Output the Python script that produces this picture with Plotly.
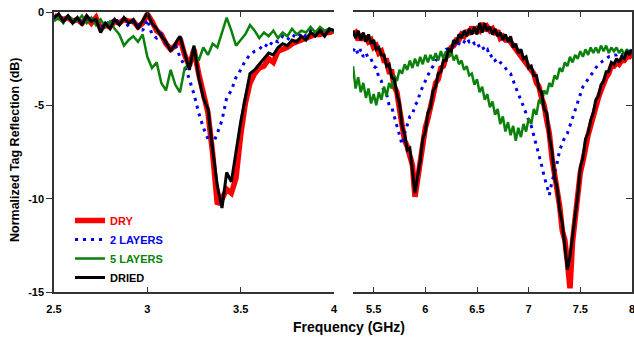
import plotly.graph_objects as go

# ---------------- data ----------------
freq_low = [2.500, 2.525, 2.550, 2.575, 2.600, 2.625, 2.650, 2.675, 2.700, 2.725,
            2.750, 2.775, 2.800, 2.825, 2.850, 2.875, 2.900, 2.925, 2.950, 2.975,
            3.000, 3.025, 3.050, 3.075, 3.100, 3.125, 3.150, 3.175, 3.200, 3.225,
            3.250, 3.275, 3.300, 3.325, 3.350, 3.375, 3.400, 3.425, 3.450, 3.475,
            3.500, 3.525, 3.550, 3.575, 3.600, 3.625, 3.650, 3.675, 3.700, 3.725,
            3.750, 3.775, 3.800, 3.825, 3.850, 3.875, 3.900, 3.925, 3.950, 3.975,
            4.000]

dried_low = [-0.3, -0.1, -0.5, -0.2, -0.6, -0.3, -0.7, -0.2, -0.5, -0.4,
             -1.1, -0.6, -0.9, -0.4, -0.7, -0.3, -0.6, -0.4, -0.9, -0.5,
             -0.05, -0.6, -0.9, -1.3, -1.6, -2.1, -1.7, -1.3, -2.2, -3.1,
             -1.8, -3.5, -4.6, -5.2, -7.4, -9.3, -10.5, -8.6, -9.1, -7.4,
             -5.9, -4.6, -3.3, -3.1, -2.8, -2.5, -2.2, -2.3, -1.9, -1.7,
             -1.8, -1.5, -1.6, -1.3, -1.5, -1.1, -1.3, -1.0, -1.3, -0.9,
             -1.0]

dry_low = [-0.2, -0.3, -0.4, -0.3, -0.5, -0.4, -0.6, -0.3, -0.6, -0.3,
           -0.9, -0.7, -0.8, -0.5, -0.6, -0.4, -0.5, -0.5, -0.8, -0.6,
           -0.1, -0.5, -1.0, -1.2, -1.7, -2.0, -1.8, -1.4, -2.3, -2.9,
           -2.0, -3.3, -4.4, -5.4, -7.6, -10.3, -10.0, -9.5, -9.7, -8.9,
           -6.6, -4.9, -3.8, -3.3, -3.0, -2.9, -2.5, -2.7, -2.1, -2.0,
           -1.9, -1.7, -1.6, -1.5, -1.4, -1.3, -1.2, -1.2, -1.1, -1.1,
           -1.0]

layers2_low = [-0.4, -0.2, -0.4, -0.3, -0.5, -0.3, -0.6, -0.4, -0.3, -0.6,
               -0.9, -0.5, -0.7, -0.3, -0.6, -0.4, -0.8, -0.5, -0.6, -1.0,
               -0.4, -1.2, -1.4, -1.2, -1.7, -2.0, -1.8, -2.4, -2.9, -3.6,
               -4.4, -5.4, -6.2, -6.8, -7.1, -6.5, -5.8, -4.6, -4.2, -3.5,
               -3.1, -2.6, -2.3, -2.1, -2.0, -1.7, -1.9, -1.5, -1.6, -1.3,
               -1.5, -1.2, -1.4, -1.1, -1.3, -1.0, -1.2, -0.9, -1.1, -1.0,
               -1.1]

layers5_low = [-0.5, -0.3, -0.6, -0.2, -0.4, -0.5, -0.2, -0.6, -0.3, -0.7,
               -0.4, -0.8, -0.5, -0.9, -1.2, -1.8, -1.5, -1.3, -1.6, -1.2,
               -2.4, -3.0, -2.7, -3.8, -4.2, -3.1, -3.9, -4.3, -3.0, -2.8,
               -2.1, -2.6, -1.9, -2.3, -1.7, -1.9, -1.1, -0.3, -1.0, -1.8,
               -1.5, -1.2, -0.7, -1.0, -1.4, -1.1, -1.3, -1.0, -1.4, -1.1,
               -1.3, -0.9, -1.2, -1.0, -1.1, -0.8, -1.1, -0.8, -1.0, -0.9,
               -1.1]

freq_high = [5.300, 5.325, 5.350, 5.375, 5.400, 5.425, 5.450, 5.475, 5.500, 5.525,
             5.550, 5.575, 5.600, 5.625, 5.650, 5.675, 5.700, 5.725, 5.750, 5.775,
             5.800, 5.825, 5.850, 5.875, 5.900, 5.925, 5.950, 5.975, 6.000, 6.025,
             6.050, 6.075, 6.100, 6.125, 6.150, 6.175, 6.200, 6.225, 6.250, 6.275,
             6.300, 6.325, 6.350, 6.375, 6.400, 6.425, 6.450, 6.475, 6.500, 6.525,
             6.550, 6.575, 6.600, 6.625, 6.650, 6.675, 6.700, 6.725, 6.750, 6.775,
             6.800, 6.825, 6.850, 6.875, 6.900, 6.925, 6.950, 6.975, 7.000, 7.025,
             7.050, 7.075, 7.100, 7.125, 7.150, 7.175, 7.200, 7.225, 7.250, 7.275,
             7.300, 7.325, 7.350, 7.375, 7.400, 7.425, 7.450, 7.475, 7.500, 7.525,
             7.550, 7.575, 7.600, 7.625, 7.650, 7.675, 7.700, 7.725, 7.750, 7.775,
             7.800, 7.825, 7.850, 7.875, 7.900, 7.925, 7.950, 7.975, 8.000]

dried_high = [-1.0, -1.4, -1.0, -1.5, -1.1, -1.6, -1.2, -1.7, -1.5, -2.0,
              -1.9, -2.3, -2.3, -2.9, -2.8, -3.5, -3.6, -4.4, -4.9, -6.1,
              -6.6, -7.4, -7.3, -8.4, -9.7, -8.8, -8.0, -6.8, -6.4, -5.4,
              -5.1, -4.2, -4.0, -3.3, -3.2, -2.6, -2.6, -2.0, -2.1, -1.5,
              -1.7, -1.2, -1.4, -1.0, -1.3, -0.9, -1.2, -0.8, -1.2, -0.6,
              -1.1, -0.6, -1.0, -0.8, -1.2, -0.9, -1.3, -1.1, -1.5, -1.2,
              -1.6, -1.3, -1.9, -1.7, -2.2, -2.0, -2.5, -2.4, -3.0, -2.9,
              -3.4, -3.4, -4.1, -4.3, -5.2, -5.4, -6.7, -7.4, -8.8, -9.4,
              -10.6, -11.3, -12.6, -13.8, -13.1, -12.0, -10.7, -9.8, -8.3, -7.8,
              -6.8, -6.5, -5.8, -5.4, -4.7, -4.5, -3.9, -3.7, -3.2, -3.2,
              -2.7, -2.8, -2.5, -2.7, -2.4, -2.5, -2.1, -2.3, -2.0]

dry_high = [-1.2, -1.1, -1.5, -1.2, -1.5, -1.3, -1.6, -1.5, -1.9, -1.8,
            -2.2, -2.1, -2.6, -2.6, -3.2, -3.2, -4.0, -4.3, -5.2, -5.9,
            -6.9, -7.2, -7.7, -8.2, -9.9, -9.0, -7.8, -7.1, -6.2, -5.7,
            -4.9, -4.5, -3.8, -3.6, -3.0, -2.9, -2.4, -2.3, -1.9, -1.8,
            -1.5, -1.5, -1.2, -1.3, -1.0, -1.2, -0.8, -1.1, -0.9, -1.0,
            -0.6, -1.0, -0.8, -1.0, -0.9, -1.2, -1.0, -1.4, -1.3, -1.5,
            -1.5, -1.6, -1.8, -2.0, -2.1, -2.3, -2.5, -2.7, -2.9, -3.2,
            -3.3, -3.8, -4.0, -4.6, -5.0, -5.8, -6.5, -7.8, -8.6, -9.8,
            -10.4, -11.7, -12.2, -13.4, -14.8, -12.3, -11.0, -10.1, -8.6, -8.0,
            -7.2, -6.6, -6.1, -5.5, -5.0, -4.6, -4.2, -3.8, -3.5, -3.3,
            -2.9, -2.9, -2.7, -2.8, -2.6, -2.6, -2.4, -2.4, -2.2]

layers2_high = [-2.1, -1.9, -2.3, -2.0, -2.4, -2.2, -2.5, -2.5, -2.9, -3.0,
                -3.5, -3.7, -4.3, -4.4, -5.0, -5.1, -5.6, -6.1, -6.6, -7.1,
                -6.5, -6.1, -5.6, -5.5, -5.0, -4.8, -4.3, -4.0, -3.7, -3.4,
                -3.1, -2.9, -2.6, -2.5, -2.3, -2.2, -2.0, -2.0, -1.8, -1.8,
                -1.6, -1.7, -1.5, -1.6, -1.4, -1.6, -1.5, -1.7, -1.6, -1.9,
                -1.8, -2.1, -2.0, -2.4, -2.3, -2.6, -2.5, -2.7, -2.8, -3.0,
                -3.2, -3.3, -3.7, -4.0, -4.4, -4.7, -5.1, -5.4, -5.8, -6.1,
                -6.6, -7.1, -7.6, -8.2, -8.8, -9.3, -9.8, -9.1, -8.6, -8.1,
                -7.4, -7.0, -6.7, -6.5, -6.1, -5.6, -5.2, -4.8, -4.4, -4.0,
                -3.8, -3.6, -3.4, -3.2, -3.0, -2.8, -2.7, -2.6, -2.5, -2.4,
                -2.4, -2.3, -2.3, -2.2, -2.3, -2.2, -2.2, -2.1, -2.2]

layers5_high = [-2.9, -4.1, -3.5, -4.3, -3.8, -4.6, -4.1, -4.9, -4.4, -5.0,
                -4.3, -4.7, -4.0, -4.5, -3.8, -4.1, -3.4, -3.7, -3.1, -3.3,
                -2.8, -3.1, -2.6, -3.0, -2.5, -2.9, -2.4, -2.8, -2.3, -2.7,
                -2.3, -2.6, -2.2, -2.6, -2.1, -2.5, -2.1, -2.4, -2.1, -2.6,
                -2.3, -2.8, -2.6, -3.1, -2.9, -3.4, -3.3, -3.9, -3.6, -4.3,
                -4.0, -4.7, -4.4, -5.1, -4.8, -5.5, -5.2, -6.0, -5.6, -6.4,
                -5.9, -6.6, -6.1, -6.9, -6.2, -6.7, -6.0, -6.4, -5.7, -6.0,
                -5.2, -5.5, -4.7, -4.9, -4.2, -4.4, -3.8, -4.0, -3.4, -3.6,
                -3.0, -3.2, -2.7, -2.9, -2.4, -2.7, -2.3, -2.5, -2.1, -2.4,
                -2.0, -2.3, -1.9, -2.2, -1.9, -2.2, -1.8, -2.1, -1.8, -2.2,
                -1.9, -2.1, -1.9, -2.2, -2.0, -2.3, -2.0, -2.2, -2.1]

series_names = ["DRY", "2 LAYERS", "5 LAYERS", "DRIED"]
series_colors = ["#ff0000", "#0000ee", "#0a820a", "#000000"]
low_values = [dry_low, layers2_low, layers5_low, dried_low]
high_values = [dry_high, layers2_high, layers5_high, dried_high]
x_ticks_low = [2.5, 3, 3.5, 4]
x_ticks_high = [5.5, 6, 6.5, 7, 7.5, 8]
y_ticks = [0, -5, -10, -15]

# ---------------- figure ----------------
W, H = 634, 337
T, B = 12, 45
PH = H - T - B
styles = [dict(width=5.5, dash="solid"), dict(width=3, dash="3px,5px"),
          dict(width=2.5, dash="solid"), dict(width=3, dash="solid")]

fig = go.Figure()
for name, col, lv, hv, st in zip(series_names, series_colors, low_values, high_values, styles):
    label = f'<span style="color:{col}">{name}</span>'
    fig.add_trace(go.Scatter(x=freq_low, y=lv, mode="lines", name=label,
                             legendgroup=name, showlegend=True,
                             line=dict(color=col, width=st["width"], dash=st["dash"]),
                             xaxis="x", yaxis="y"))
    fig.add_trace(go.Scatter(x=freq_high, y=hv, mode="lines", name=label,
                             legendgroup=name, showlegend=False,
                             line=dict(color=col, width=st["width"], dash=st["dash"]),
                             xaxis="x2", yaxis="y2"))

axis_col = "#333333"
tickfont = dict(family="Arial, Liberation Sans, sans-serif", size=11, color="#000", weight="bold")

fig.update_layout(
    width=W, height=H,
    margin=dict(l=0, r=0, t=T, b=B, autoexpand=False),
    paper_bgcolor="white", plot_bgcolor="white",
    showlegend=True,
    legend=dict(x=70 / W, y=(H - B - 206) / PH, xanchor="left", yanchor="top",
                bgcolor="rgba(0,0,0,0)", borderwidth=0,
                font=dict(family="Arial, Liberation Sans, sans-serif", size=11, weight="bold"),
                tracegroupgap=0, traceorder="normal"),
    xaxis=dict(domain=[54 / W, 334 / W], range=[2.5, 4.0], anchor="y", automargin=False,
               tickvals=x_ticks_low, ticktext=[f"{v:g}" for v in x_ticks_low],
               ticks="inside", ticklen=5, tickwidth=1.2, tickcolor=axis_col,
               showline=True, linecolor=axis_col, linewidth=1.5, mirror="ticks",
               showgrid=False, zeroline=False, tickfont=tickfont, ticklabelstandoff=6,
               ticklabeloverflow="allow"),
    yaxis=dict(domain=[0, 1], range=[-15, 0], anchor="x", automargin=False,
               tickvals=y_ticks, ticktext=[f"{v:g}" for v in y_ticks],
               ticks="outside", ticklen=6, tickwidth=1.2, tickcolor=axis_col,
               showline=True, linecolor=axis_col, linewidth=1.5, mirror=False,
               showgrid=False, zeroline=False, tickfont=tickfont,
               ticklabeloverflow="allow"),
    xaxis2=dict(domain=[353 / W, 632 / W], range=[5.3, 8.0], anchor="y2", automargin=False,
                tickvals=x_ticks_high, ticktext=[f"{v:g}" for v in x_ticks_high],
                ticks="inside", ticklen=5, tickwidth=1.2, tickcolor=axis_col,
                showline=True, linecolor=axis_col, linewidth=1.5, mirror="ticks",
                showgrid=False, zeroline=False, tickfont=tickfont, ticklabelstandoff=6,
                ticklabeloverflow="allow"),
    yaxis2=dict(domain=[0, 1], range=[-15, 0], anchor="x2", side="right", automargin=False,
                tickvals=[-5, -10], showticklabels=False,
                ticks="inside", ticklen=6, tickwidth=1.2, tickcolor=axis_col,
                showline=True, linecolor=axis_col, linewidth=1.5, mirror=False,
                showgrid=False, zeroline=False),
)

fig.add_annotation(text="Normalized Tag Reflection (dB)", xref="paper", yref="paper",
                   x=15 / W, y=(H - B - 150) / PH, textangle=-90, showarrow=False,
                   font=dict(family="Arial, Liberation Sans, sans-serif", size=12.5,
                             color="#000", weight="bold"),
                   xanchor="center", yanchor="middle")
fig.add_annotation(text="Frequency (GHz)", xref="paper", yref="paper",
                   x=349 / W, y=(H - B - 327) / PH, showarrow=False,
                   font=dict(family="Arial, Liberation Sans, sans-serif", size=14,
                             color="#000", weight="bold"),
                   xanchor="center", yanchor="middle")

fig.write_html("out.html")
